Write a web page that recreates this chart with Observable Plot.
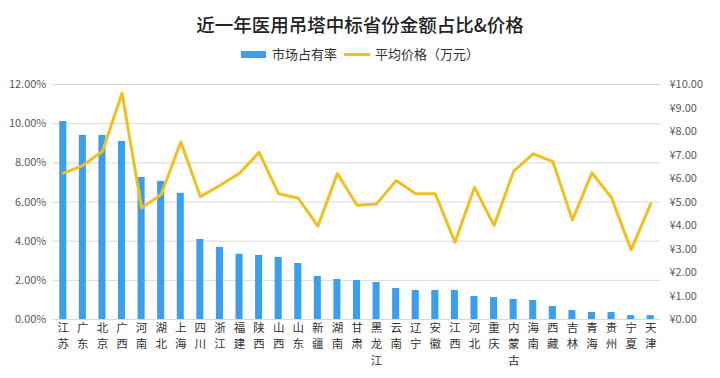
<!DOCTYPE html>
<html><head><meta charset="utf-8">
<script src="https://cdn.jsdelivr.net/npm/d3@7"></script>
<script src="https://cdn.jsdelivr.net/npm/@observablehq/plot@0.6"></script>
<style>
body{margin:0;background:#fff;font-family:"Noto Sans CJK SC","Noto Sans",sans-serif;}
#wrap{width:720px;height:378px;overflow:hidden;}
.title{height:46px;line-height:48px;text-align:center;font-size:18.5px;font-weight:500;color:#222;}
.legend{height:16px;line-height:16px;display:flex;justify-content:center;align-items:center;font-size:13px;color:#333;}
.sw-bar{display:inline-block;width:25px;height:7px;background:#3A9FEE;margin-right:6px;}
.sw-line{display:inline-block;width:26px;height:3px;background:#F2C01E;margin:0 5px 0 7px;}
</style></head>
<body><div id="wrap">
<div class="title">近一年医用吊塔中标省份金额占比&amp;价格</div>
<div class="legend"><span class="sw-bar"></span>市场占有率<span class="sw-line"></span>平均价格（万元）</div>
<div id="chart"></div>
</div>
<script>
const provinces = ["江苏","广东","北京","广西","河南","湖北","上海","四川","浙江","福建","陕西","山西","山东","新疆","湖南","甘肃","黑龙江","云南","辽宁","安徽","江西","河北","重庆","内蒙古","海南","西藏","吉林","青海","贵州","宁夏","天津"];
const share = [10.11,9.40,9.40,9.09,7.25,7.05,6.44,4.09,3.68,3.33,3.27,3.17,2.86,2.20,2.04,1.99,1.89,1.58,1.48,1.48,1.48,1.17,1.12,1.02,0.97,0.66,0.46,0.36,0.36,0.20,0.20];
const price = [6.23,6.55,7.16,9.63,4.75,5.32,7.55,5.23,5.70,6.22,7.11,5.35,5.16,3.97,6.21,4.86,4.92,5.91,5.35,5.35,3.29,5.63,4.00,6.31,7.05,6.72,4.24,6.24,5.18,2.96,4.92];
const shareTicks = [0,2,4,6,8,10,12];
const priceTicks = [0,1,2,3,4,5,6,7,8,9,10];

const k = 1.2; // ¥10 ↔ 12%
const data = provinces.map((p,i)=>({p, share: share[i], price: price[i], py: price[i]*k}));

// vertical (one character per row) category labels
const labelRows = [0,1,2].map(r =>
  Plot.axisX({tickSize: 0, tickPadding: 4 + r*16.8, tickFormat: d => d[r] || "", fontSize: 11.5, fill: "#333", lineAnchor: "top", label: null})
);

const chart = Plot.plot({
  width: 720, height: 316,
  marginTop: 22, marginBottom: 59, marginLeft: 53, marginRight: 60,
  style: {fontFamily: '"Noto Sans CJK SC","Noto Sans",sans-serif', background: "#fff"},
  x: {type: "band", domain: provinces, paddingInner: 0.64, paddingOuter: 0.32, round: false, label: null},
  y: {domain: [0, 12], label: null},
  marks: [
    Plot.ruleY(shareTicks, {stroke: "#d9d9d9", strokeWidth: 1}),
    Plot.barY(data, {x: "p", y: "share", fill: "#3A9FEE"}),
    Plot.line(data, {x: "p", y: "py", stroke: "#F2C01E", strokeWidth: 3, strokeLinejoin: "round"}),
    Plot.axisY({anchor: "left", ticks: shareTicks, tickSize: 0, tickPadding: 7, tickFormat: d => d.toFixed(2) + "%", fontSize: 11, fill: "#595959", label: null}),
    Plot.axisY({anchor: "right", ticks: priceTicks.map(d => d*k), tickSize: 0, tickPadding: 9, tickFormat: d => "¥" + (d/k).toFixed(2), fontSize: 11, fill: "#595959", label: null}),
    ...labelRows
  ]
});
document.getElementById("chart").appendChild(chart);
</script>
</body></html>
